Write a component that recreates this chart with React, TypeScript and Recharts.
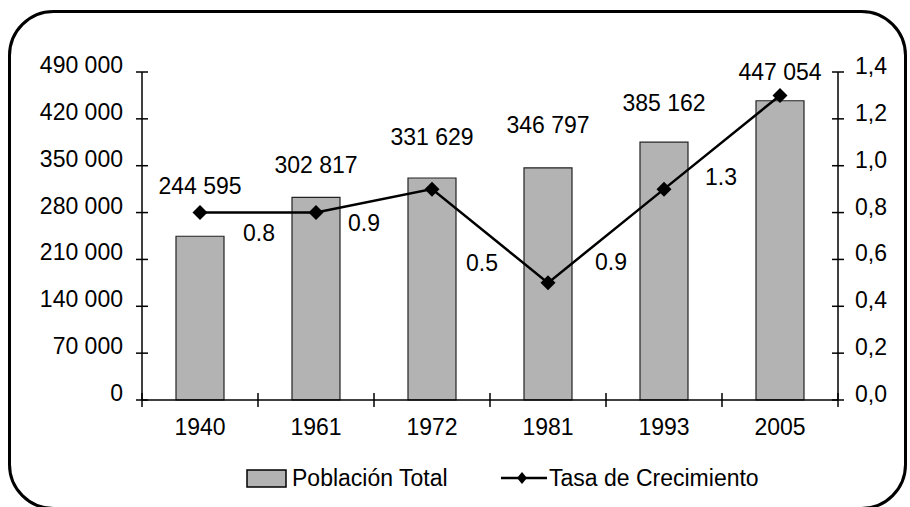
import React from 'react';
import {
  ComposedChart,
  Bar,
  Line,
  XAxis,
  YAxis,
  Legend,
  LabelList
} from 'recharts';

const years = ['1940', '1961', '1972', '1981', '1993', '2005'];
const poblacion = [244595, 302817, 331629, 346797, 385162, 447054];
const tasa = [0.8, 0.8, 0.9, 0.5, 0.9, 1.3];
const leftTicks = [0, 70000, 140000, 210000, 280000, 350000, 420000, 490000];
const rightTicks = [0, 0.2, 0.4, 0.6, 0.8, 1.0, 1.2, 1.4];

// layout constants
const W = 910;
const H = 507;
const PLOT_LEFT = 142;
const PLOT_RIGHT = 838;
const PLOT_TOP = 72;
const PLOT_BOTTOM = 400;
const HALF_BAND = (PLOT_RIGHT - PLOT_LEFT) / years.length / 2;
const FONT = '"Liberation Sans", Arial, sans-serif';
const FS = 23;

// label placement tweaks (gap above bar top, offsets of the growth labels)
const barLabelGap = [50, 32, 41, 43, 39, 29];
const rateLabelDx = [0, -57, -68, -66, -53, -59];
const rateLabelDy = [0, 20, 34, -20, 73, 82];

const chartData = years.map((year, i) => ({
  year,
  poblacion: poblacion[i],
  tasa: tasa[i]
}));

const fmtThousands = (n: number) => String(n).replace(/\B(?=(\d{3})+(?!\d))/g, ' ');

const LeftTick = (props: any) => {
  const { y, payload } = props;
  return (
    <g>
      <line x1={PLOT_LEFT - 6} x2={PLOT_LEFT + 6} y1={y} y2={y} stroke="#000" strokeWidth={1.5} />
      <text x={PLOT_LEFT - 19} y={y - 7} textAnchor="end" dominantBaseline="central"
        fontFamily={FONT} fontSize={FS} fill="#000">
        {fmtThousands(payload.value)}
      </text>
    </g>
  );
};

const RightTick = (props: any) => {
  const { y, payload } = props;
  return (
    <g>
      <line x1={PLOT_RIGHT - 6} x2={PLOT_RIGHT + 6} y1={y} y2={y} stroke="#000" strokeWidth={1.5} />
      <text x={PLOT_RIGHT + 17} y={y - 6} textAnchor="start" dominantBaseline="central"
        fontFamily={FONT} fontSize={FS} fill="#000">
        {Number(payload.value).toFixed(1).replace('.', ',')}
      </text>
    </g>
  );
};

const XTick = (props: any) => {
  const { x, payload, index } = props;
  const last = index === years.length - 1;
  return (
    <g>
      <line x1={x - HALF_BAND} x2={x - HALF_BAND} y1={PLOT_BOTTOM - 7} y2={PLOT_BOTTOM + 7} stroke="#000" strokeWidth={1.5} />
      {last && (
        <line x1={x + HALF_BAND} x2={x + HALF_BAND} y1={PLOT_BOTTOM - 7} y2={PLOT_BOTTOM + 7} stroke="#000" strokeWidth={1.5} />
      )}
      <text x={x} y={PLOT_BOTTOM + 27} textAnchor="middle" dominantBaseline="central"
        fontFamily={FONT} fontSize={FS} fill="#000">
        {payload.value}
      </text>
    </g>
  );
};

const Diamond = (props: any) => {
  const { cx, cy } = props;
  if (cx == null || cy == null) return null;
  const r = 7.5;
  return (
    <polygon
      points={`${cx},${cy - r} ${cx + r},${cy} ${cx},${cy + r} ${cx - r},${cy}`}
      fill="#000"
    />
  );
};

const BarValueLabel = (props: any) => {
  const { x, y, width, value, index } = props;
  return (
    <text x={x + width / 2} y={y - barLabelGap[index]} textAnchor="middle" dominantBaseline="central"
      fontFamily={FONT} fontSize={FS} fill="#000">
      {fmtThousands(value)}
    </text>
  );
};

const RateLabel = (props: any) => {
  const { x, y, value, index } = props;
  if (index === 0) return null;
  return (
    <text x={x + rateLabelDx[index]} y={y + rateLabelDy[index]} textAnchor="middle" dominantBaseline="central"
      fontFamily={FONT} fontSize={FS} fill="#000">
      {Number(value).toFixed(1)}
    </text>
  );
};

const LegendBox = () => (
  <svg width={W} height={32}>
    <rect x={247} y={8} width={39} height={17} fill="#b3b3b3" stroke="#000" strokeWidth={1.5} />
    <text x={292} y={16} dominantBaseline="central" fontFamily={FONT} fontSize={FS} fill="#000">
      Población Total
    </text>
    <line x1={501} x2={547} y1={16} y2={16} stroke="#000" strokeWidth={2.5} />
    <polygon points="522,10 527,16 522,22 517,16" fill="#000" />
    <text x={549} y={16} dominantBaseline="central" fontFamily={FONT} fontSize={FS} fill="#000">
      Tasa de Crecimiento
    </text>
  </svg>
);

const App: React.FC = () => {
  return (
    <div style={{ position: 'absolute', left: 0, top: 0, width: W, height: H, background: '#fff', overflow: 'hidden' }}>
      <svg width={W} height={H} style={{ position: 'absolute', left: 0, top: 0 }}>
        <rect x={9.5} y={11.5} width={896} height={497} rx={44} ry={44} fill="none" stroke="#000" strokeWidth={3} />
      </svg>
      <div style={{ position: 'absolute', left: 0, top: 0 }}>
        <ComposedChart
          width={W}
          height={H}
          data={chartData}
          margin={{ top: PLOT_TOP, right: W - PLOT_RIGHT - 60, bottom: H - PLOT_BOTTOM - 40, left: PLOT_LEFT - 80 }}
        >
          <XAxis
            dataKey="year"
            height={40}
            stroke="#000"
            strokeWidth={1.5}
            tickLine={false}
            tick={<XTick />}
            interval={0}
          />
          <YAxis
            yAxisId="left"
            width={80}
            domain={[0, 490000]}
            ticks={leftTicks}
            interval={0}
            stroke="#000"
            strokeWidth={1.5}
            tickLine={false}
            tick={<LeftTick />}
          />
          <YAxis
            yAxisId="right"
            orientation="right"
            width={60}
            domain={[0, 1.4]}
            ticks={rightTicks}
            interval={0}
            stroke="#000"
            strokeWidth={1.5}
            tickLine={false}
            tick={<RightTick />}
          />
          <Legend
            layout="horizontal"
            verticalAlign="middle"
            align="center"
            wrapperStyle={{ top: 462, left: 0, width: W, height: 32 }}
            content={() => <LegendBox />}
          />
          <Bar
            yAxisId="left"
            dataKey="poblacion"
            name="Población Total"
            barSize={48}
            fill="#b3b3b3"
            stroke="#222"
            strokeWidth={1.2}
            isAnimationActive={false}
          >
            <LabelList dataKey="poblacion" content={<BarValueLabel />} />
          </Bar>
          <Line
            yAxisId="right"
            dataKey="tasa"
            name="Tasa de Crecimiento"
            stroke="#000"
            strokeWidth={2.5}
            dot={<Diamond />}
            activeDot={false}
            isAnimationActive={false}
          >
            <LabelList dataKey="tasa" content={<RateLabel />} />
          </Line>
        </ComposedChart>
      </div>
    </div>
  );
};

export default App;
